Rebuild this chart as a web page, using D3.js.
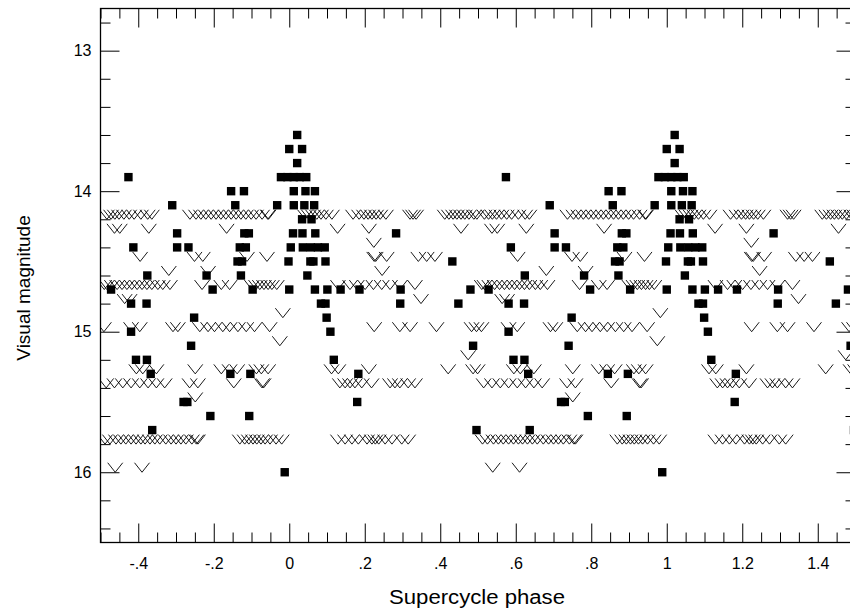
<!DOCTYPE html>
<html>
<head>
<meta charset="utf-8">
<script src="https://cdn.jsdelivr.net/npm/d3@7"></script>
<style>
  body { margin: 0; background: #fff; }
  text { font-family: "Liberation Sans", Arial, sans-serif; fill: #000; }
</style>
</head>
<body>
<div id="chart"></div>
<script>
// detections, drawn as filled squares: [supercycle phase, visual magnitude]
const detections = [
  [0.021, 13.6],
  [0.000, 13.7], [0.034, 13.7],
  [0.021, 13.8],
  [-0.426, 13.9], [-0.022, 13.9], [-0.005, 13.9], [0.012, 13.9], [0.028, 13.9], [0.045, 13.9],
  [-0.154, 14.0], [-0.120, 14.0], [0.012, 14.0], [0.043, 14.0], [0.068, 14.0],
  [-0.310, 14.1], [-0.143, 14.1], [-0.032, 14.1], [0.012, 14.1], [0.040, 14.1], [0.066, 14.1],
  [0.034, 14.2], [0.059, 14.2],
  [-0.297, 14.3], [-0.119, 14.3], [-0.107, 14.3], [0.010, 14.3], [0.035, 14.3], [0.069, 14.3], [0.283, 14.3],
  [-0.413, 14.4], [-0.297, 14.4], [-0.267, 14.4], [-0.131, 14.4], [-0.115, 14.4], [0.004, 14.4],
  [0.036, 14.4], [0.057, 14.4], [0.076, 14.4], [0.094, 14.4],
  [-0.137, 14.5], [-0.125, 14.5], [-0.002, 14.5], [0.056, 14.5], [0.064, 14.5], [0.096, 14.5], [0.432, 14.5],
  [-0.376, 14.6], [-0.219, 14.6], [-0.128, 14.6], [0.048, 14.6],
  [-0.472, 14.7], [-0.203, 14.7], [-0.097, 14.7], [0.000, 14.7], [0.068, 14.7], [0.101, 14.7],
  [0.136, 14.7], [0.186, 14.7], [0.295, 14.7], [0.480, 14.7],
  [-0.419, 14.8], [-0.378, 14.8], [0.084, 14.8], [0.096, 14.8], [0.294, 14.8], [0.448, 14.8],
  [-0.252, 14.9], [0.099, 14.9],
  [-0.419, 15.0], [0.109, 15.0],
  [-0.260, 15.1], [0.487, 15.1],
  [-0.406, 15.2], [-0.377, 15.2], [0.118, 15.2],
  [-0.367, 15.3], [-0.156, 15.3], [-0.103, 15.3], [0.183, 15.3],
  [-0.280, 15.5], [-0.270, 15.5], [0.180, 15.5],
  [-0.209, 15.6], [-0.106, 15.6],
  [-0.363, 15.7], [0.496, 15.7],
  [-0.012, 16.0]
];

// "fainter than" upper limits, drawn as V marks: [phase, limiting magnitude]
const upperLimits = [
  // 14.2
  [-0.483, 14.2], [-0.472, 14.2], [-0.462, 14.2], [-0.451, 14.2], [-0.438, 14.2], [-0.424, 14.2],
  [-0.411, 14.2], [-0.393, 14.2], [-0.375, 14.2], [-0.364, 14.2],
  [-0.263, 14.2], [-0.247, 14.2], [-0.234, 14.2], [-0.221, 14.2], [-0.207, 14.2], [-0.194, 14.2],
  [-0.181, 14.2], [-0.168, 14.2], [-0.154, 14.2], [-0.141, 14.2], [-0.128, 14.2], [-0.115, 14.2],
  [-0.101, 14.2], [-0.088, 14.2], [-0.072, 14.2], [-0.057, 14.2], [-0.055, 14.2],
  [0.042, 14.2], [0.052, 14.2], [0.063, 14.2], [0.073, 14.2], [0.084, 14.2], [0.097, 14.2], [0.113, 14.2],
  [0.169, 14.2], [0.185, 14.2], [0.198, 14.2], [0.209, 14.2], [0.219, 14.2], [0.230, 14.2],
  [0.241, 14.2], [0.256, 14.2],
  [0.320, 14.2], [0.328, 14.2], [0.336, 14.2],
  [0.412, 14.2], [0.423, 14.2], [0.434, 14.2], [0.444, 14.2], [0.455, 14.2], [0.465, 14.2],
  [0.476, 14.2], [0.489, 14.2], [0.497, 14.2],
  // 14.3
  [-0.463, 14.3], [-0.449, 14.3], [-0.372, 14.3], [-0.166, 14.3], [0.128, 14.3], [0.211, 14.3], [0.455, 14.3],
  // 14.4
  [0.224, 14.4],
  // 14.5
  [-0.395, 14.5], [-0.251, 14.5], [-0.229, 14.5], [-0.112, 14.5], [-0.059, 14.5],
  [0.225, 14.5], [0.229, 14.5], [0.258, 14.5], [0.342, 14.5], [0.364, 14.5], [0.386, 14.5],
  // 14.6
  [-0.319, 14.6], [-0.215, 14.6], [0.246, 14.6],
  // 14.7
  [-0.490, 14.7], [-0.483, 14.7], [-0.470, 14.7], [-0.456, 14.7], [-0.443, 14.7], [-0.430, 14.7],
  [-0.417, 14.7], [-0.403, 14.7], [-0.390, 14.7], [-0.377, 14.7], [-0.364, 14.7], [-0.348, 14.7],
  [-0.335, 14.7], [-0.316, 14.7],
  [-0.231, 14.7], [-0.180, 14.7], [-0.158, 14.7],
  [-0.099, 14.7], [-0.088, 14.7], [-0.078, 14.7], [-0.067, 14.7], [-0.056, 14.7], [-0.046, 14.7], [-0.033, 14.7],
  [0.129, 14.7], [0.161, 14.7], [0.179, 14.7], [0.201, 14.7], [0.223, 14.7], [0.245, 14.7],
  [0.267, 14.7], [0.293, 14.7], [0.333, 14.7],
  // 14.8
  [-0.436, 14.8], [-0.423, 14.8], [0.349, 14.8],
  // 14.9
  [-0.017, 14.9],
  // 15.0
  [-0.491, 15.0], [-0.419, 15.0], [-0.396, 15.0], [-0.308, 15.0], [-0.295, 15.0],
  [-0.237, 15.0], [-0.215, 15.0], [-0.198, 15.0], [-0.176, 15.0], [-0.158, 15.0], [-0.136, 15.0],
  [-0.114, 15.0], [-0.092, 15.0], [-0.052, 15.0],
  [0.225, 15.0], [0.293, 15.0], [0.320, 15.0], [0.390, 15.0], [0.483, 15.0], [0.496, 15.0],
  // 15.1, 15.2
  [-0.025, 15.1],
  [0.474, 15.2],
  // 15.3
  [-0.405, 15.3], [-0.388, 15.3], [-0.352, 15.3], [-0.249, 15.3], [-0.180, 15.3], [-0.158, 15.3],
  [-0.138, 15.3], [-0.087, 15.3], [-0.074, 15.3], [-0.056, 15.3],
  [0.112, 15.3], [0.130, 15.3], [0.211, 15.3], [0.421, 15.3], [0.487, 15.3], [0.499, 15.3],
  // 15.4
  [-0.485, 15.4], [-0.463, 15.4], [-0.441, 15.4], [-0.419, 15.4], [-0.396, 15.4], [-0.374, 15.4],
  [-0.352, 15.4], [-0.330, 15.4], [-0.264, 15.4], [-0.242, 15.4], [-0.147, 15.4],
  [-0.072, 15.4], [-0.068, 15.4],
  [0.134, 15.4], [0.148, 15.4], [0.161, 15.4], [0.174, 15.4], [0.192, 15.4], [0.218, 15.4],
  [0.267, 15.4], [0.280, 15.4], [0.293, 15.4], [0.315, 15.4], [0.333, 15.4],
  // 15.5
  [-0.249, 15.5],
  // 15.8
  [-0.488, 15.8], [-0.475, 15.8], [-0.459, 15.8], [-0.446, 15.8], [-0.433, 15.8], [-0.419, 15.8],
  [-0.406, 15.8], [-0.393, 15.8], [-0.382, 15.8], [-0.369, 15.8], [-0.356, 15.8], [-0.343, 15.8],
  [-0.327, 15.8], [-0.313, 15.8], [-0.300, 15.8], [-0.287, 15.8], [-0.274, 15.8], [-0.258, 15.8],
  [-0.246, 15.8], [-0.242, 15.8],
  [-0.131, 15.8], [-0.118, 15.8], [-0.107, 15.8], [-0.096, 15.8], [-0.086, 15.8], [-0.075, 15.8],
  [-0.064, 15.8], [-0.051, 15.8], [-0.035, 15.8], [-0.020, 15.8],
  [0.129, 15.8], [0.148, 15.8], [0.166, 15.8], [0.183, 15.8], [0.206, 15.8], [0.219, 15.8],
  [0.228, 15.8], [0.237, 15.8], [0.254, 15.8], [0.272, 15.8], [0.298, 15.8], [0.315, 15.8],
  // 16.0
  [-0.461, 16.0], [-0.390, 16.0]
];

const xTickValues = [-0.4, -0.2, 0, 0.2, 0.4, 0.6, 0.8, 1, 1.2, 1.4];
const xTickLabels = ["-.4", "-.2", "0", ".2", ".4", ".6", ".8", "1", "1.2", "1.4"];
const yTickValues = [13, 14, 15, 16];
const yTickLabels = ["13", "14", "15", "16"];

const width = 850, height = 610;
const plotLeft = 100.5, plotRight = 855.5, plotTop = 8.5, plotBottom = 542.5;

const svg = d3.select("#chart")
  .append("svg")
  .attr("width", width)
  .attr("height", height);

const x = d3.scaleLinear().domain([-0.5, 1.5]).range([plotLeft, plotRight]);
const y = d3.scaleLinear().domain([12.7, 16.5]).range([plotTop, plotBottom]);

// minor tick positions
const xMinor = d3.range(-0.5, 1.5001, 0.05).filter(v => Math.abs(v * 5 - Math.round(v * 5)) > 1e-6);
const yMinor = d3.range(12.8, 16.5, 0.2).filter(v => Math.abs(v - Math.round(v)) > 1e-6);

svg.append("defs").append("clipPath")
  .attr("id", "plot-clip")
  .append("rect")
  .attr("x", plotLeft).attr("y", plotTop)
  .attr("width", plotRight - plotLeft).attr("height", plotBottom - plotTop);

// each point is plotted at its phase and one supercycle later
const twice = arr => arr.flatMap(([p, m]) => [[p, m], [p + 1, m]]);

const plot = svg.append("g").attr("clip-path", "url(#plot-clip)");

plot.selectAll("path.limit")
  .data(twice(upperLimits))
  .enter().append("path")
  .attr("class", "limit")
  .attr("d", d => {
    const cx = x(d[0]), cy = y(d[1]);
    return "M" + (cx - 7.5) + "," + (cy - 9.5) + "L" + cx + "," + cy + "L" + (cx + 7.5) + "," + (cy - 9.5);
  })
  .style("fill", "none")
  .style("stroke", "#000")
  .style("stroke-width", 0.9);

plot.selectAll("rect.det")
  .data(twice(detections))
  .enter().append("rect")
  .attr("class", "det")
  .attr("x", d => x(d[0]) - 4.2)
  .attr("y", d => y(d[1]) - 4.2)
  .attr("width", 8.4)
  .attr("height", 8.4)
  .style("fill", "#000");

// axes: inward major and minor ticks on all four sides
const styleAxis = g => {
  g.select(".domain").remove();
  g.selectAll(".tick line").style("stroke", "#000").style("stroke-width", 1);
};

svg.append("g")
  .attr("transform", "translate(0," + plotBottom + ")")
  .call(d3.axisBottom(x).tickValues(xTickValues).tickSizeInner(-19).tickSizeOuter(0).tickPadding(15)
    .tickFormat((d, i) => xTickLabels[i]))
  .call(styleAxis)
  .selectAll("text").style("font-size", "16px");

svg.append("g")
  .attr("transform", "translate(0," + plotBottom + ")")
  .call(d3.axisBottom(x).tickValues(xMinor).tickSizeInner(-10).tickSizeOuter(0).tickFormat(""))
  .call(styleAxis);

svg.append("g")
  .attr("transform", "translate(0," + plotTop + ")")
  .call(d3.axisTop(x).tickValues(xTickValues).tickSizeInner(-19).tickSizeOuter(0).tickFormat(""))
  .call(styleAxis);

svg.append("g")
  .attr("transform", "translate(0," + plotTop + ")")
  .call(d3.axisTop(x).tickValues(xMinor).tickSizeInner(-10).tickSizeOuter(0).tickFormat(""))
  .call(styleAxis);

svg.append("g")
  .attr("transform", "translate(" + plotLeft + ",0)")
  .call(d3.axisLeft(y).tickValues(yTickValues).tickSizeInner(-19).tickSizeOuter(0).tickPadding(9)
    .tickFormat((d, i) => yTickLabels[i]))
  .call(styleAxis)
  .selectAll("text").style("font-size", "16px");

svg.append("g")
  .attr("transform", "translate(" + plotLeft + ",0)")
  .call(d3.axisLeft(y).tickValues(yMinor).tickSizeInner(-10).tickSizeOuter(0).tickFormat(""))
  .call(styleAxis);

svg.append("g")
  .attr("transform", "translate(" + plotRight + ",0)")
  .call(d3.axisRight(y).tickValues(yTickValues).tickSizeInner(-19).tickSizeOuter(0).tickFormat(""))
  .call(styleAxis);

svg.append("g")
  .attr("transform", "translate(" + plotRight + ",0)")
  .call(d3.axisRight(y).tickValues(yMinor).tickSizeInner(-10).tickSizeOuter(0).tickFormat(""))
  .call(styleAxis);

// frame
svg.append("rect")
  .attr("x", plotLeft).attr("y", plotTop)
  .attr("width", plotRight - plotLeft).attr("height", plotBottom - plotTop)
  .style("fill", "none")
  .style("stroke", "#000")
  .style("stroke-width", 1.3);

// axis titles
svg.append("text")
  .attr("x", 477)
  .attr("y", 604)
  .attr("text-anchor", "middle")
  .attr("textLength", 176)
  .attr("lengthAdjust", "spacingAndGlyphs")
  .style("font-size", "20px")
  .text("Supercycle phase");

svg.append("text")
  .attr("transform", "translate(30," + 288 + ") rotate(-90)")
  .attr("text-anchor", "middle")
  .style("font-size", "19px")
  .text("Visual magnitude");
</script>
</body>
</html>
